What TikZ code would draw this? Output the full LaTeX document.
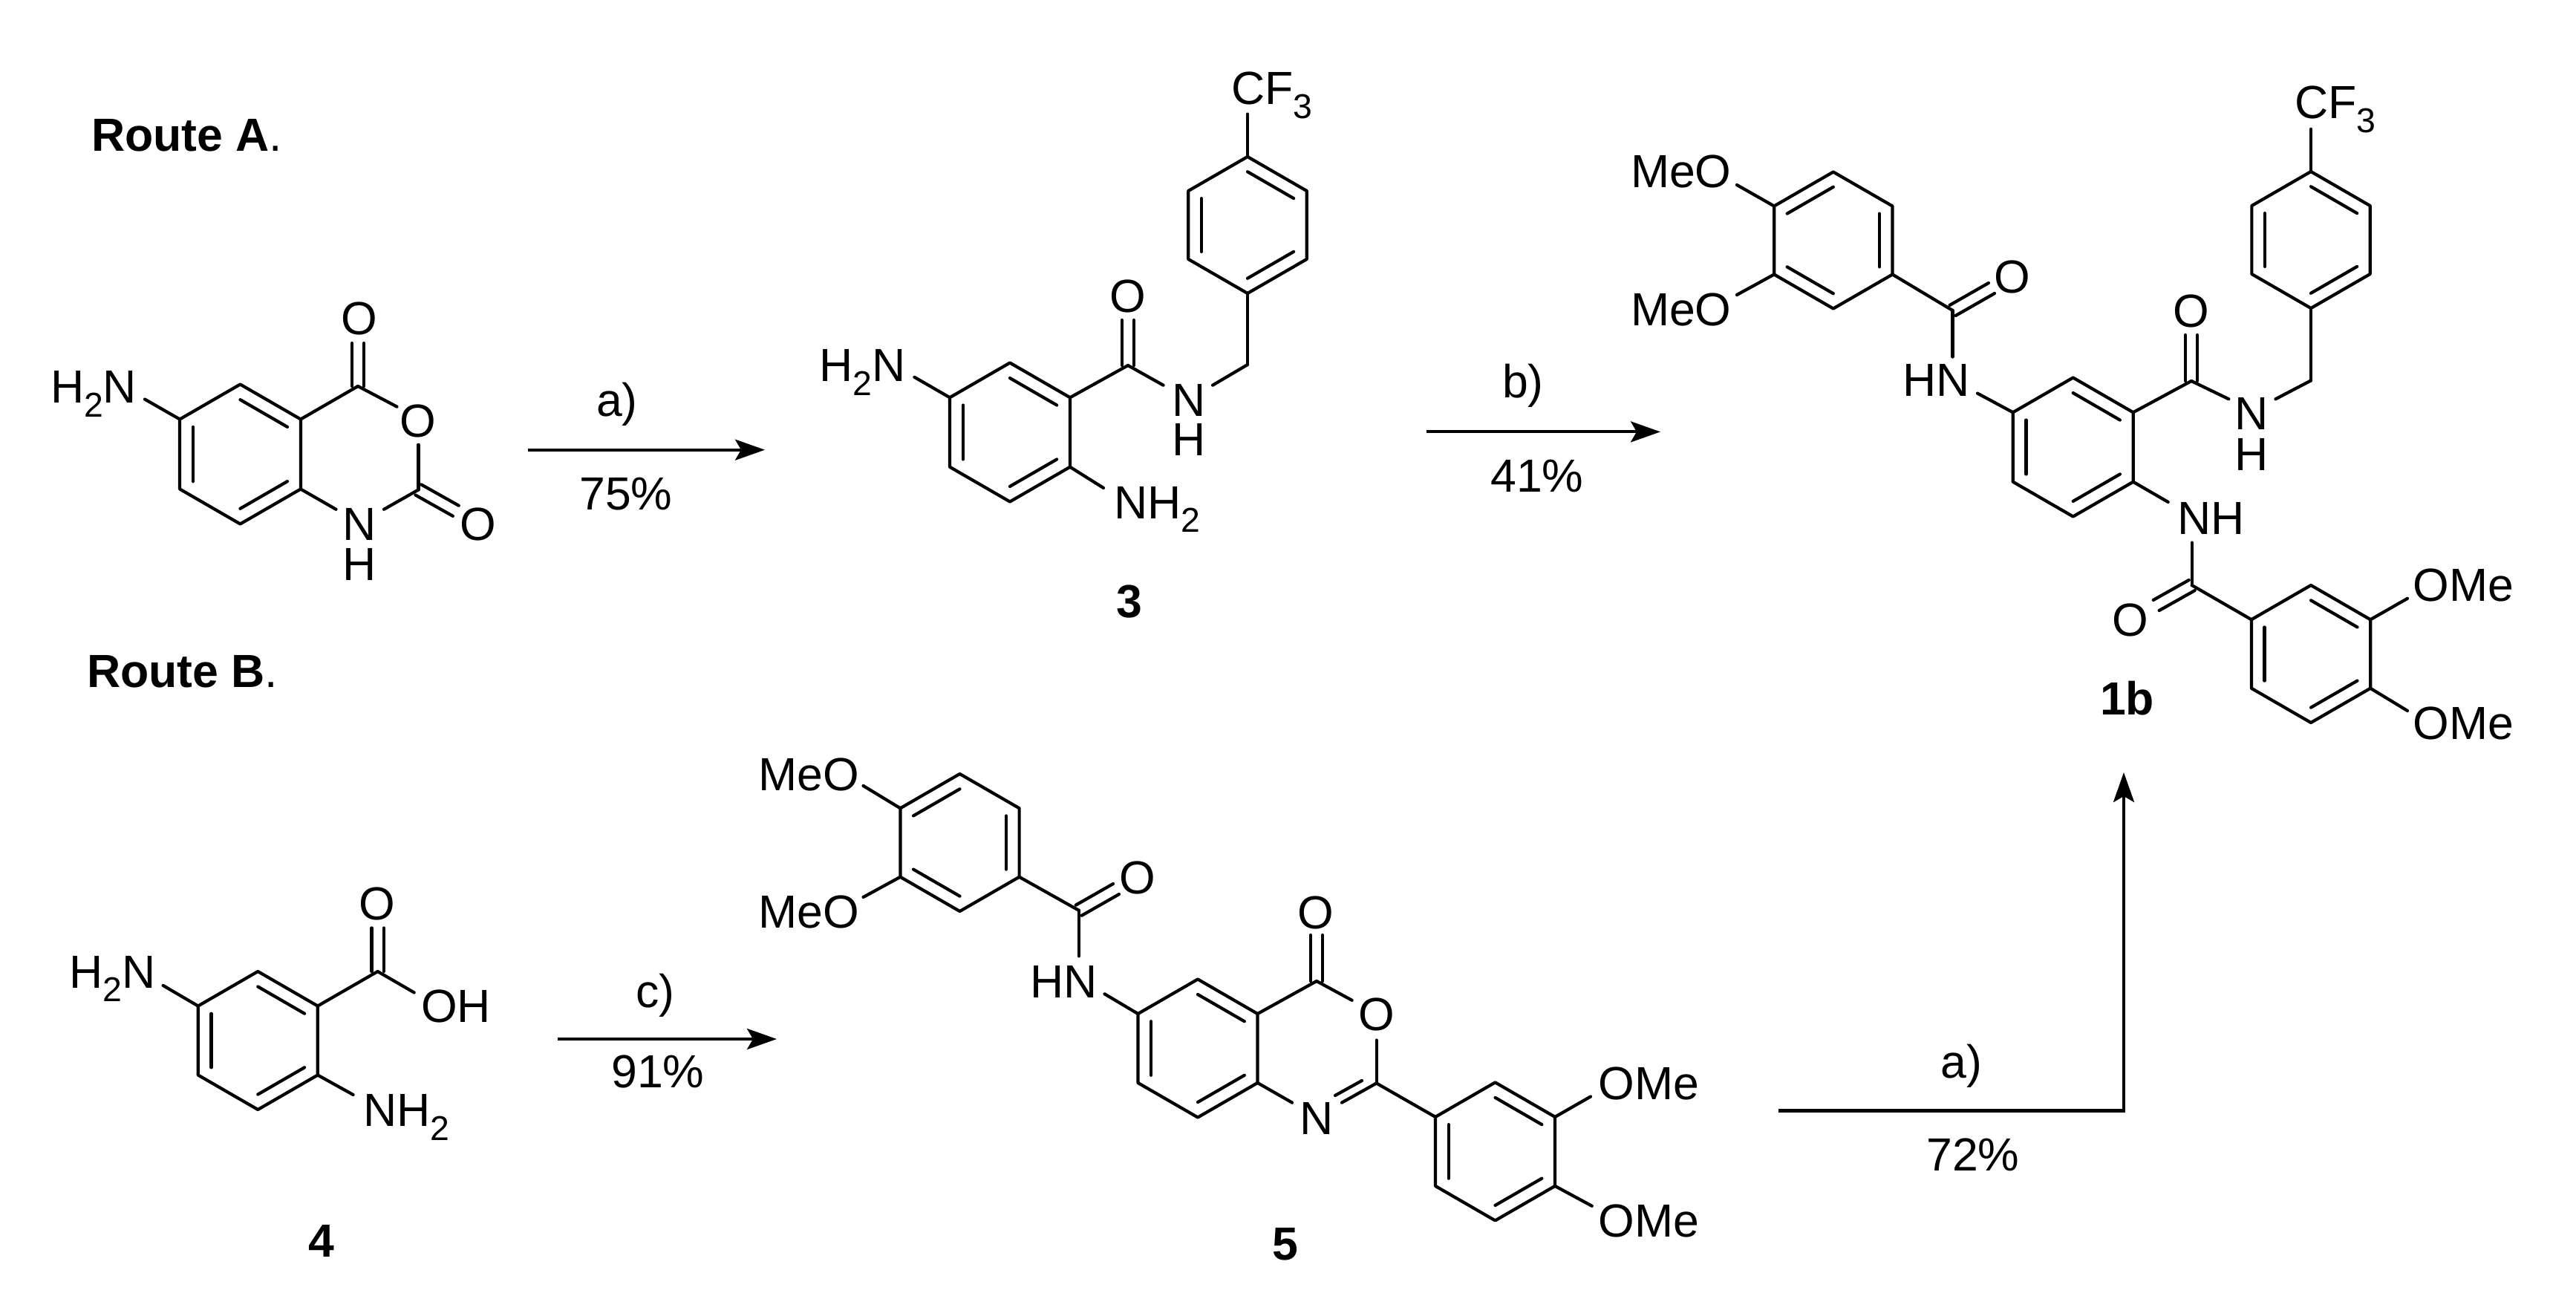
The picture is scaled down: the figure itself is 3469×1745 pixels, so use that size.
\documentclass[tikz,border=0pt]{standalone}
\usepackage{fontspec}
\setmainfont{Liberation Sans}
\usetikzlibrary{calc,arrows.meta}
\newcommand\sbs[1]{\raisebox{-0.3em}{\fontsize{13.2}{13.2}\selectfont #1}}
\tikzset{
  bond/.style={line width=1.2pt,line cap=round,line join=round,black},
  lbl/.style={inner sep=0pt,outer sep=0pt,font=\fontsize{17.8}{20}\selectfont,anchor=base west,text=black},
  ctr/.style={lbl,anchor=base},
  cmpd/.style={lbl,anchor=base,font=\fontsize{17.8}{20}\selectfont\bfseries},
  rxn/.style={line width=1.15pt,black,-{Stealth[length=4mm,width=2.8mm,inset=0.8mm]}}
}
\newcommand\hexring[4]{%
  \coordinate (#1c) at (#2,#3);
  \coordinate (#11) at (#2,#3-#4);
  \coordinate (#12) at (#2+0.866*#4,#3-0.5*#4);
  \coordinate (#13) at (#2+0.866*#4,#3+0.5*#4);
  \coordinate (#14) at (#2,#3+#4);
  \coordinate (#15) at (#2-0.866*#4,#3+0.5*#4);
  \coordinate (#16) at (#2-0.866*#4,#3-0.5*#4);
  \draw[bond] (#11)--(#12)--(#13)--(#14)--(#15)--(#16)--cycle;
}
\newcommand\inner[3]{\draw[bond] ($(#1c)!0.78!(#1#2)$) -- ($(#1c)!0.78!(#1#3)$);}
\newcommand\hexA[1]{\inner{#1}{1}{2}\inner{#1}{3}{4}\inner{#1}{5}{6}}
\newcommand\hexB[1]{\inner{#1}{6}{1}\inner{#1}{2}{3}\inner{#1}{4}{5}}
\newcommand\bnd[2]{\draw[bond] (#1) -- (#2);}
\newcommand\dbl[2]{%
  \draw[bond] ($(#1)!2.3pt!90:(#2)$) -- ($(#2)!2.3pt!-90:(#1)$);
  \draw[bond] ($(#1)!2.3pt!-90:(#2)$) -- ($(#2)!2.3pt!90:(#1)$);}
\begin{document}
\begin{tikzpicture}[x=0.1mm,y=-0.1mm]
\useasboundingbox (0,0) rectangle (3469,1745);
\fill[white] (0,0) rectangle (3469,1745);

% Route labels
\node[lbl] (routeA) at (123,203) {{\bfseries Route A}.};
\node[lbl] (routeB) at (117,925) {{\bfseries Route B}.};

% --- Isatoic anhydride
\hexring{sm}{323.5}{611.5}{94}\hexA{sm}
\node[lbl] (smH2N) at (68,542.6) {H\sbs{2}N};
\node[ctr] (smO1) at (484,450.6) {O};
\node[ctr] (smO2) at (563,588.3) {O};
\node[ctr] (smN) at (484,727.6) {N};
\node[ctr] (smH) at (484,781) {H};
\node[ctr] (smO3) at (644,727.6) {O};
\coordinate (smNe) at (195,537.6);
\coordinate (smC4) at (482,520);
\coordinate (smC4o) at (482,462);
\coordinate (smOa) at (534.5,547.6);
\coordinate (smOb) at (563.4,598.8);
\coordinate (smC2) at (563.4,659.5);
\coordinate (smC2o) at (613.8,687.8);
\coordinate (smNa) at (517,685.8);
\coordinate (smNb) at (452.5,685.8);
\bnd{smNe}{sm6}\bnd{sm2}{smC4}\dbl{smC4}{smC4o}\bnd{smC4}{smOa}
\bnd{smOb}{smC2}\dbl{smC2}{smC2o}\bnd{smC2}{smNa}\bnd{smNb}{sm3}

% arrow a
\coordinate (aS) at (710.6,605.7);
\coordinate (aE) at (1030,605.7);
\draw[rxn] (aS) -- (aE);
\node[ctr] (aT) at (831,560) {a)};
\node[ctr] (aY) at (843,686) {75\%};

% --- Compound 3
\hexring{ta}{1360}{582}{93.5}\hexA{ta}
\hexring{tb}{1680}{303}{92}\hexA{tb}
\node[lbl] (tH2N) at (1103.6,513.7) {H\sbs{2}N};
\node[lbl] (tNH2) at (1500,698) {NH\sbs{2}};
\node[ctr] (tO) at (1519,420) {O};
\node[ctr] (tN) at (1601,560) {N};
\node[ctr] (tH) at (1601,613) {H};
\node[lbl] (tCF3) at (1658,140.7) {CF\sbs{3}};
\node[cmpd] (t3) at (1521,831) {3};
\coordinate (tNe) at (1231.4,507.8);
\coordinate (tNf) at (1486,657);
\coordinate (tC) at (1519,492);
\coordinate (tCo) at (1519,431);
\coordinate (tNa) at (1566.6,518.7);
\coordinate (tNb) at (1633,518.7);
\coordinate (tCH2) at (1680,491);
\coordinate (tCFe) at (1680,153.6);
\bnd{tNe}{ta6}\bnd{ta3}{tNf}\bnd{ta2}{tC}\dbl{tC}{tCo}\bnd{tC}{tNa}
\bnd{tNb}{tCH2}\bnd{tCH2}{tb4}\bnd{tb1}{tCFe}

% arrow b
\coordinate (bS) at (1921,581.4);
\coordinate (bE) at (2236,581.4);
\draw[rxn] (bS) -- (bE);
\node[ctr] (bT) at (2051,535) {b)};
\node[ctr] (bY) at (2070,662) {41\%};

% --- Compound 1b
\hexring{pa}{2791.7}{602}{93.5}\hexA{pa}
\hexring{pb}{3112}{323}{92}\hexA{pb}
\hexring{pc}{2468.8}{323.5}{92}\hexB{pc}
\hexring{pd}{3112}{880.5}{92.5}\hexA{pd}
\node[lbl] (pCF3) at (3090.5,159.7) {CF\sbs{3}};
\node[lbl] (pMeO1) at (2196,252) {MeO};
\node[lbl] (pMeO2) at (2196,438.5) {MeO};
\node[lbl] (pHN) at (2562,533) {HN};
\node[ctr] (pO1) at (2709.4,394) {O};
\node[ctr] (pO2) at (2951,440) {O};
\node[ctr] (pN) at (3031.6,578.8) {N};
\node[ctr] (pH) at (3031.6,633.6) {H};
\node[lbl] (pNH) at (2932,719) {NH};
\node[ctr] (pO3) at (2869,856.5) {O};
\node[lbl] (pOMe1) at (3249.5,809) {OMe};
\node[lbl] (pOMe2) at (3249.5,995) {OMe};
\node[cmpd] (p1b) at (2864.5,962) {1b};
\coordinate (pCFe) at (3112,173.8);
\coordinate (pMa) at (2339,249);
\coordinate (pMb) at (2339,397);
\coordinate (pCa) at (2629.5,418);
\coordinate (pCao) at (2682,388);
\coordinate (pNa) at (2629.5,480.5);
\coordinate (pNb) at (2663,529.6);
\coordinate (pCb) at (2951,513);
\coordinate (pCbo) at (2951,451);
\coordinate (pNc) at (3001.3,537.3);
\coordinate (pNd) at (3064.4,537.3);
\coordinate (pCH2) at (3112,512.4);
\coordinate (pNe) at (2919.7,676);
\coordinate (pNf) at (2951.7,730.6);
\coordinate (pCc) at (2951.7,788);
\coordinate (pCco) at (2903.7,815);
\coordinate (pMc) at (3242,805.8);
\coordinate (pMd) at (3242,957);
\bnd{pb1}{pCFe}\bnd{pMa}{pc6}\bnd{pMb}{pc5}\bnd{pc3}{pCa}\dbl{pCa}{pCao}
\bnd{pCa}{pNa}\bnd{pNb}{pa6}\bnd{pa2}{pCb}\dbl{pCb}{pCbo}\bnd{pCb}{pNc}
\bnd{pNd}{pCH2}\bnd{pCH2}{pb4}\bnd{pa3}{pNe}\bnd{pNf}{pCc}\dbl{pCc}{pCco}
\bnd{pCc}{pd6}\bnd{pd2}{pMc}\bnd{pd3}{pMd}

% --- Compound 4
\hexring{fa}{347.3}{1401}{93}\hexA{fa}
\node[lbl] (fH2N) at (93.3,1330) {H\sbs{2}N};
\node[lbl] (fNH2) at (489,1516.4) {NH\sbs{2}};
\node[ctr] (fO) at (508,1238) {O};
\node[lbl] (fOH) at (567,1376.8) {OH};
\node[cmpd] (f4) at (433,1692.7) {4};
\coordinate (fNe) at (219.6,1326.9);
\coordinate (fNf) at (475.6,1474);
\coordinate (fC) at (508.6,1308);
\coordinate (fCo) at (508.6,1249.4);
\coordinate (fOe) at (557.7,1336.4);
\bnd{fNe}{fa6}\bnd{fa3}{fNf}\bnd{fa2}{fC}\dbl{fC}{fCo}\bnd{fC}{fOe}

% arrow c
\coordinate (cS) at (750.6,1399);
\coordinate (cE) at (1046,1399);
\draw[rxn] (cS) -- (cE);
\node[ctr] (cT) at (882.5,1356) {c)};
\node[ctr] (cY) at (886,1464.6) {91\%};

% --- Compound 5
\hexring{ia}{1292.5}{1134.5}{92.5}\hexB{ia}
\hexring{ib}{1613}{1411.5}{93}\hexA{ib}
\hexring{ic}{2013.5}{1550.4}{93}\hexA{ic}
\node[lbl] (iMeO1) at (1021.4,1064) {MeO};
\node[lbl] (iMeO2) at (1021.4,1249.4) {MeO};
\node[ctr] (iO1) at (1532,1203.5) {O};
\node[lbl] (iHN) at (1387.5,1343) {HN};
\node[ctr] (iO2) at (1772,1250) {O};
\node[ctr] (iO3) at (1853.6,1387.8) {O};
\node[ctr] (iN) at (1773,1527.4) {N};
\node[lbl] (iOMe1) at (2152.7,1480.8) {OMe};
\node[lbl] (iOMe2) at (2152.7,1665) {OMe};
\node[cmpd] (i5) at (1731,1696) {5};
\coordinate (iMa) at (1162.5,1058);
\coordinate (iMb) at (1162.5,1208);
\coordinate (iC) at (1452.7,1225.7);
\coordinate (iCo) at (1503,1197);
\coordinate (iNa) at (1452.7,1287.4);
\coordinate (iNb) at (1487.5,1338.3);
\coordinate (iC4) at (1773,1321);
\coordinate (iC4o) at (1773,1259);
\coordinate (iOa) at (1820.6,1346.8);
\coordinate (iOb) at (1853.6,1400.5);
\coordinate (iC2) at (1853.6,1458.5);
\coordinate (iNc) at (1740,1484.6);
\coordinate (iNd) at (1807,1484.6);
\coordinate (iNe) at (1798,1475);
\coordinate (iNf) at (1834,1455);
\coordinate (iMc) at (2142,1476.5);
\coordinate (iMd) at (2143.8,1623.8);
\bnd{iMa}{ia6}\bnd{iMb}{ia5}\bnd{ia3}{iC}\dbl{iC}{iCo}\bnd{iC}{iNa}
\bnd{iNb}{ib6}\bnd{ib2}{iC4}\dbl{iC4}{iC4o}\bnd{iC4}{iOa}\bnd{iOb}{iC2}
\bnd{ib3}{iNc}\bnd{iC2}{iNd}\bnd{iNe}{iNf}\bnd{iC2}{ic6}\bnd{ic2}{iMc}\bnd{ic3}{iMd}

% bent arrow
\coordinate (dS) at (2395,1495.5);
\coordinate (dM) at (2860,1495.5);
\coordinate (dE) at (2860,1040);
\draw[rxn,line join=miter] (dS) -- (dM) -- (dE);
\node[ctr] (dT) at (2641.5,1451) {a)};
\node[ctr] (dY) at (2657,1576.8) {72\%};
\end{tikzpicture}
\end{document}
